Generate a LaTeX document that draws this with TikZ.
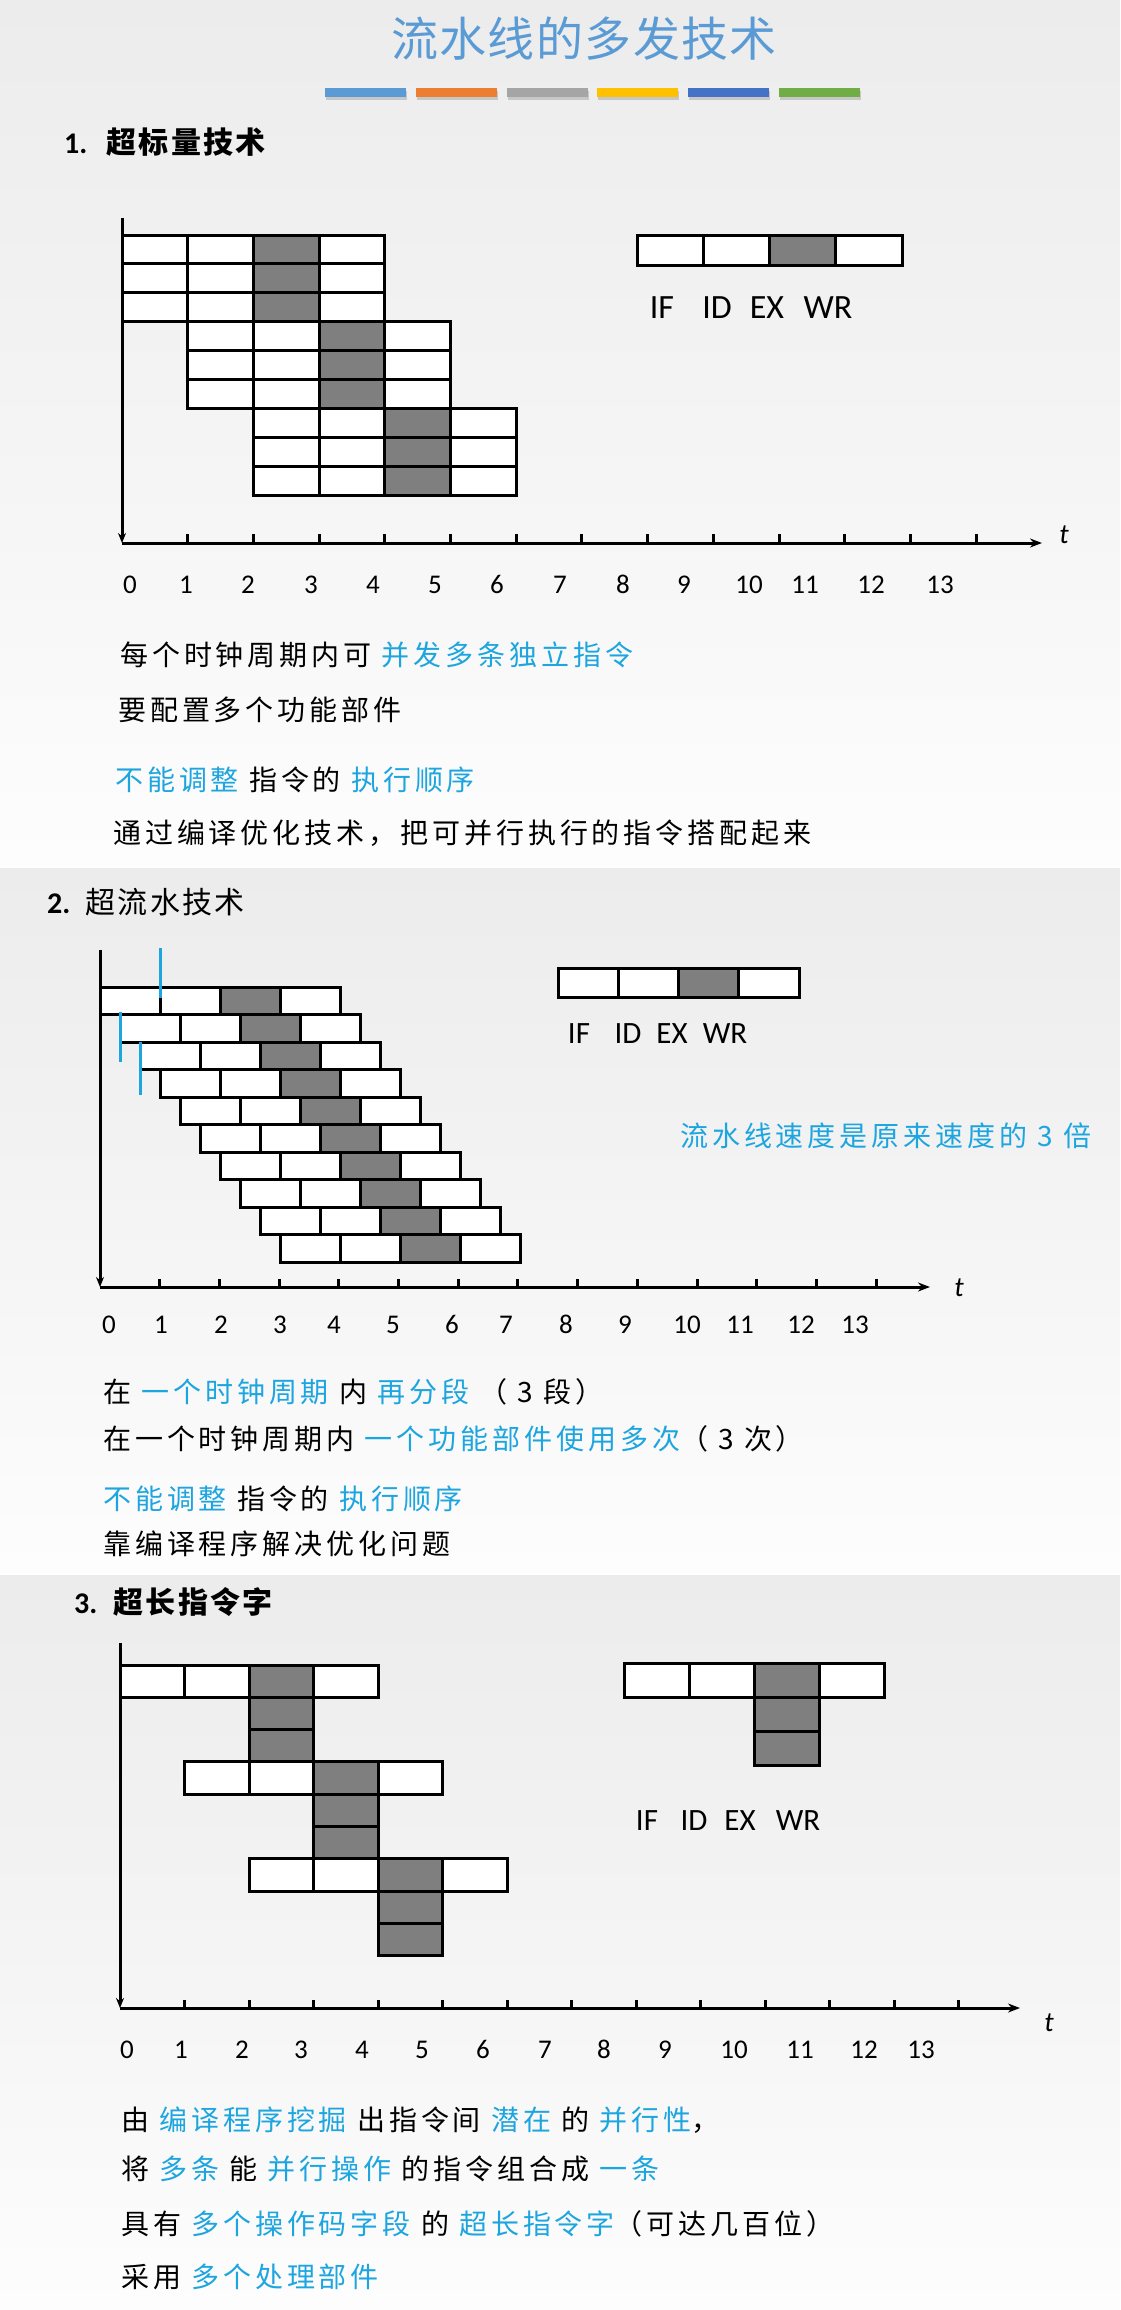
\documentclass[tikz,border=0pt]{standalone}
\usepackage{fontspec}
\setmainfont{Carlito}
\newfontfamily\cjk{Noto Sans CJK SC}[LetterSpace=14]
\newfontfamily\cjkhead{Noto Sans CJK SC}[LetterSpace=8]
\newfontfamily\cjktitle{Noto Sans CJK SC}[LetterSpace=3]
\usetikzlibrary{arrows.meta}
\definecolor{hl}{HTML}{1DA5DF}
\definecolor{ttl}{HTML}{5B9BD5}
\definecolor{cellgray}{HTML}{7F7F7F}
\definecolor{barA}{HTML}{5B9BD5}
\definecolor{barB}{HTML}{ED7D31}
\definecolor{barC}{HTML}{A5A5A5}
\definecolor{barD}{HTML}{FFC000}
\definecolor{barE}{HTML}{4472C4}
\definecolor{barF}{HTML}{70AD47}
\definecolor{pantop}{HTML}{ECECEC}
\definecolor{panmid}{HTML}{F4F4F4}
\definecolor{panbot}{HTML}{FDFDFD}
\tikzset{
  cell/.style={draw=black, line width=3pt, inner sep=0pt, outer sep=0pt, rectangle},
  axisline/.style={line width=3pt, black},
  marker/.style={line width=3pt, hl},
  body/.style={anchor=base west, inner sep=0pt, font=\cjk\fontsize{28}{32}\selectfont},
  head/.style={anchor=base west, inner sep=0pt, font=\fontsize{30}{34}\selectfont},
  num/.style={anchor=base, inner sep=0pt, font=\fontsize{27}{30}\selectfont},
  leg/.style={anchor=base, inner sep=0pt, font=\fontsize{31}{34}\selectfont},
  tlab/.style={inner sep=0pt, font=\itshape\fontsize{28}{30}\selectfont},
  hx/.style={-{Stealth[length=12pt,width=9pt]}},
  vx/.style={-{Stealth[length=10pt,width=8pt]}},
}
\begin{document}
\begin{tikzpicture}[x=1pt,y=-1pt]
\useasboundingbox (0,0) rectangle (1120,2310);
\fill[white] (0,0) rectangle (1120,2310);
% panels
\shade[top color=pantop, bottom color=panbot, middle color=panmid] (0,0) rectangle (1120,865);
\shade[top color=pantop, bottom color=panbot, middle color=panmid] (0,868) rectangle (1120,1572);
\shade[top color=pantop, bottom color=panbot, middle color=panmid] (0,1575) rectangle (1120,2310);

% title
\node[anchor=base, inner sep=0pt, font=\cjktitle\fontsize{47}{50}\selectfont, text=ttl] (title) at (584,56) {流水线的多发技术};
\foreach \i/\col in {0/barA,1/barB,2/barC,3/barD,4/barE,5/barF}{
  \fill[black!22] ({326+90.8*\i},91) rectangle ++(81,9);
  \fill[\col] ({325+90.8*\i},88) rectangle ++(81,9);
}

% ================= Section 1 =================
\node[head] (h1) at (64,153) {\makebox[42pt][l]{\bfseries 1.}{\cjkhead\bfseries 超标量技术}};
\foreach \r in {0,...,8}{
  \pgfmathtruncatemacro{\g}{\r/3}
  \foreach \c in {0,...,3}{
    \ifnum\c=2 \def\cf{cellgray}\else\def\cf{white}\fi
    \node[cell, fill=\cf, minimum width=65.7pt, minimum height=28.9pt] (a-\r-\c) at ({122+65.7*(\g+\c+0.5)},{235+28.9*(\r+0.5)}) {};
  }
}
\foreach \c in {0,...,3}{
  \ifnum\c=2 \def\cf{cellgray}\else\def\cf{white}\fi
  \node[cell, fill=\cf, minimum width=66.25pt, minimum height=30.7pt] (lga-\c) at ({637+66.25*(\c+0.5)},250.35) {};
}
\foreach \t/\xx in {IF/662,ID/717,EX/767,WR/828}
  \node[leg, font=\fontsize{34}{36}\selectfont] (lla-\t) at (\xx,318) {\t};
\coordinate (va) at (122,218);
\coordinate (oa) at (122,543);
\coordinate (ea) at (1042,543);
\draw[axisline, vx] (va) -- (oa);
\draw[axisline, hx] (oa) -- (ea);
\foreach \k in {1,...,13} \draw[axisline] ({122+65.7*\k},543) -- ++(0,-9);
\node[tlab] (ta) at (1064,535) {t};
\foreach \n/\xx in {0/130,1/186,2/248,3/311,4/373,5/435,6/497,7/560,8/623,9/684,10/749,11/805,12/871,13/940}
  \node[num] (na-\n) at (\xx,593.5) {\n};
\node[body] (s1a) at (120,665) {每个时钟周期内可 \textcolor{hl}{并发多条独立指令}};
\node[body] (s1b) at (118,720) {要配置多个功能部件};
\node[body] (s1c) at (115,790) {\textcolor{hl}{不能调整} 指令的 \textcolor{hl}{执行顺序}};
\node[body] (s1d) at (113,843) {通过编译优化技术，把可并行执行的指令搭配起来};

% ================= Section 2 =================
\node[head] (h2) at (47,913) {\makebox[38pt][l]{\bfseries 2.}{\cjkhead 超流水技术}};
\foreach \r in {0,...,9}{
  \foreach \c in {0,...,3}{
    \ifnum\c=2 \def\cf{cellgray}\else\def\cf{white}\fi
    \node[cell, fill=\cf, minimum width=60pt, minimum height=27.5pt] (b-\r-\c) at ({100+20*\r+60*(\c+0.5)},{987+27.5*(\r+0.5)}) {};
  }
}
\foreach \c in {0,...,3}{
  \ifnum\c=2 \def\cf{cellgray}\else\def\cf{white}\fi
  \node[cell, fill=\cf, minimum width=60.25pt, minimum height=29pt] (lgb-\c) at ({558+60.25*(\c+0.5)},982.5) {};
}
\foreach \t/\xx in {IF/579,ID/628,EX/672,WR/725}
  \node[leg] (llb-\t) at (\xx,1043) {\t};
\coordinate (m1a) at (160.7,948); \coordinate (m1b) at (160.7,998);
\coordinate (m2a) at (120.4,1012); \coordinate (m2b) at (120.4,1062);
\coordinate (m3a) at (140,1042); \coordinate (m3b) at (140,1095);
\draw[marker] (m1a) -- (m1b);
\draw[marker] (m2a) -- (m2b);
\draw[marker] (m3a) -- (m3b);
\coordinate (vb) at (100,950);
\coordinate (ob) at (100,1287);
\coordinate (eb) at (930,1287);
\draw[axisline, vx] (vb) -- (ob);
\draw[axisline, hx] (ob) -- (eb);
\foreach \k in {1,...,13} \draw[axisline] ({100+59.7*\k},1287) -- ++(0,-8);
\node[tlab] (tb) at (959,1288) {t};
\foreach \n/\xx in {0/109,1/161,2/221,3/280,4/334,5/393,6/452,7/506,8/566,9/625,10/687,11/740,12/801,13/855}
  \node[num] (nb-\n) at (\xx,1333.5) {\n};
\node[body, text=hl] (spd) at (680,1146) {流水线速度是原来速度的 3 倍};
\node[body] (s2a) at (103,1402) {在 \textcolor{hl}{一个时钟周期} 内 \textcolor{hl}{再分段} （ 3 段）};
\node[body] (s2b) at (103,1449) {在一个时钟周期内 \textcolor{hl}{一个功能部件使用多次}（ 3 次）};
\node[body] (s2c) at (103,1509) {\textcolor{hl}{不能调整} 指令的 \textcolor{hl}{执行顺序}};
\node[body] (s2d) at (103,1554) {靠编译程序解决优化问题};

% ================= Section 3 =================
\node[head] (h3) at (74,1613) {\makebox[39pt][l]{\bfseries 3.}{\cjkhead\bfseries 超长指令字}};
\foreach \g in {0,1,2}{
  \foreach \c in {0,...,3}{
    \ifnum\c=2 \def\cf{cellgray}\else\def\cf{white}\fi
    \node[cell, fill=\cf, minimum width=64.5pt, minimum height=32.3pt] (c-\g-\c) at ({120+64.5*(\g+\c+0.5)},{1665+96.9*\g+16.15}) {};
  }
  \foreach \s in {1,2}{
    \node[cell, fill=cellgray, minimum width=64.5pt, minimum height=32.3pt] (c-\g-x\s) at ({120+64.5*(\g+2.5)},{1665+96.9*\g+32.3*\s+16.15}) {};
  }
}
\foreach \c in {0,...,3}{
  \ifnum\c=2 \def\cf{cellgray}\else\def\cf{white}\fi
  \node[cell, fill=\cf, minimum width=65pt, minimum height=34pt] (lgc-\c) at ({624+65*(\c+0.5)},1680) {};
}
\node[cell, fill=cellgray, minimum width=65pt, minimum height=34pt] (lgc-x1) at ({624+65*2.5},1714) {};
\node[cell, fill=cellgray, minimum width=65pt, minimum height=34pt] (lgc-x2) at ({624+65*2.5},1748) {};
\foreach \t/\xx in {IF/647,ID/694,EX/740,WR/798}
  \node[leg] (llc-\t) at (\xx,1830) {\t};
\coordinate (vc) at (120,1643);
\coordinate (oc) at (120,2008);
\coordinate (ec) at (1020,2008);
\draw[axisline, vx] (vc) -- (oc);
\draw[axisline, hx] (oc) -- (ec);
\foreach \k in {1,...,13} \draw[axisline] ({120+64.5*\k},2008) -- ++(0,-8);
\node[tlab] (tc) at (1049,2023) {t};
\foreach \n/\xx in {0/127,1/181,2/242,3/301,4/362,5/422,6/483,7/545,8/604,9/665,10/734,11/800,12/864,13/921}
  \node[num] (nc-\n) at (\xx,2058.5) {\n};
\node[body] (s3a) at (121,2130) {由 \textcolor{hl}{编译程序挖掘} 出指令间 \textcolor{hl}{潜在} 的 \textcolor{hl}{并行性}，};
\node[body] (s3b) at (121,2179) {将 \textcolor{hl}{多条} 能 \textcolor{hl}{并行操作} 的指令组合成 \textcolor{hl}{一条}};
\node[body] (s3c) at (121,2234) {具有 \textcolor{hl}{多个操作码字段} 的 \textcolor{hl}{超长指令字}（可达几百位）};
\node[body] (s3d) at (121,2287) {采用 \textcolor{hl}{多个处理部件}};
\end{tikzpicture}
\end{document}
